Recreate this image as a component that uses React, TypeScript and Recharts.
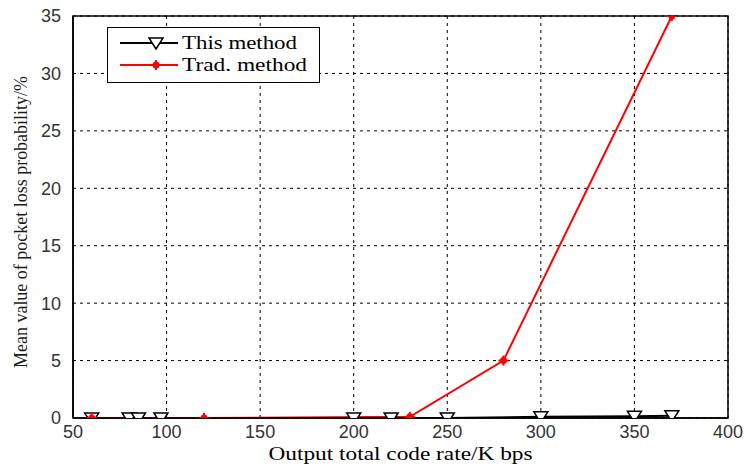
import React from "react";
import {
  LineChart,
  Line,
  XAxis,
  YAxis,
  CartesianGrid,
  ReferenceArea,
} from "recharts";

const thisRates = [60, 80, 85, 97, 200, 220, 250, 300, 350, 370];
const thisLoss = [0, 0, 0, 0, 0, 0, 0, 0.1, 0.15, 0.2];

const tradRates = [60, 120, 230, 280, 370];
const tradLoss = [0, 0, 0.1, 5, 35];

const xTicks = [50, 100, 150, 200, 250, 300, 350, 400];
const yTicks = [0, 5, 10, 15, 20, 25, 30, 35];

const thisData = thisRates.map((x, i) => ({ x, y: thisLoss[i] }));
const tradData = tradRates.map((x, i) => ({ x, y: tradLoss[i] }));

const serif = "'Liberation Serif', 'Times New Roman', serif";
const sans = "'Liberation Sans', Arial, sans-serif";

function TriangleDot(props: any) {
  const { cx, cy } = props;
  if (cx == null || cy == null) return null;
  return (
    <path
      d={`M${cx - 7},${cy - 5} L${cx + 7},${cy - 5} L${cx},${cy + 6} Z`}
      fill="#fff"
      stroke="#000"
      strokeWidth={1.5}
    />
  );
}

function StarDot(props: any) {
  const { cx, cy } = props;
  if (cx == null || cy == null) return null;
  return (
    <g>
      <circle cx={cx} cy={cy} r={3.5} fill="#ff0000" />
      <line x1={cx - 5} y1={cy} x2={cx + 5} y2={cy} stroke="#ff0000" strokeWidth={2} />
      <line x1={cx} y1={cy - 5} x2={cx} y2={cy + 5} stroke="#ff0000" strokeWidth={2} />
    </g>
  );
}

function LegendBox() {
  return (
    <svg width={214} height={57} style={{ position: "absolute", left: 107, top: 27 }}>
      <rect x={0.5} y={0.5} width={212} height={55} fill="#fff" stroke="#000" strokeWidth={1} />
      <line x1={13} y1={16} x2={71} y2={16} stroke="#000" strokeWidth={2} />
      <TriangleDot cx={49} cy={16} />
      <text x={75} y={22} fontFamily={serif} fontSize={19} fill="#000" textLength={115} lengthAdjust="spacingAndGlyphs">
        This method
      </text>
      <line x1={13} y1={38} x2={71} y2={38} stroke="#ff0000" strokeWidth={2} />
      <StarDot cx={49} cy={38} />
      <text x={75} y={44} fontFamily={serif} fontSize={19} fill="#000" textLength={125} lengthAdjust="spacingAndGlyphs">
        Trad. method
      </text>
    </svg>
  );
}

function XTitle(props: any) {
  const vb = props.viewBox || {};
  const cx = (vb.x ?? 72) + (vb.width ?? 656) / 2;
  return (
    <text x={cx} y={460} textAnchor="middle" fontFamily={serif} fontSize={19} fill="#000" textLength={264} lengthAdjust="spacingAndGlyphs">
      Output total code rate/K bps
    </text>
  );
}

function YTitle() {
  return (
    <text
      x={0}
      y={0}
      transform="translate(27,222) rotate(-90)"
      textAnchor="middle"
      fontFamily={serif}
      fontSize={18}
      fill="#1a1a1a"
      textLength={292}
      lengthAdjust="spacingAndGlyphs"
    >
      Mean value of pocket loss probability/%
    </text>
  );
}

export default function App() {
  return (
    <div style={{ position: "absolute", left: 0, top: 0, width: 745, height: 466, background: "#fff" }}>
      <LineChart width={745} height={466} margin={{ top: 16, right: 17, left: 0, bottom: 0 }}>
        <CartesianGrid stroke="#000" strokeDasharray="3 4" strokeWidth={1} />
        <XAxis
          type="number"
          dataKey="x"
          domain={[50, 400]}
          ticks={xTicks}
          allowDataOverflow
          height={48}
          tickLine={false}
          axisLine={{ stroke: "#000", strokeWidth: 1.5 }}
          tick={{ fill: "#333", fontSize: 18, fontFamily: sans }}
          tickMargin={1}
          label={<XTitle />}
        />
        <YAxis
          type="number"
          domain={[0, 35]}
          ticks={yTicks}
          allowDataOverflow
          width={73}
          tickLine={false}
          axisLine={{ stroke: "#000", strokeWidth: 1.5 }}
          tick={{ fill: "#333", fontSize: 18, fontFamily: sans }}
          tickMargin={6}
          label={<YTitle />}
        />
        <ReferenceArea x1={50} x2={400} y1={0} y2={35} fill="none" stroke="#000" strokeWidth={1.5} />
        <Line
          data={thisData}
          dataKey="y"
          name="This method"
          stroke="#000"
          strokeWidth={2}
          dot={<TriangleDot />}
          activeDot={false}
          isAnimationActive={false}
        />
        <Line
          data={tradData}
          dataKey="y"
          name="Trad. method"
          stroke="#ff0000"
          strokeWidth={2}
          dot={<StarDot />}
          activeDot={false}
          isAnimationActive={false}
        />
      </LineChart>
      <LegendBox />
    </div>
  );
}
